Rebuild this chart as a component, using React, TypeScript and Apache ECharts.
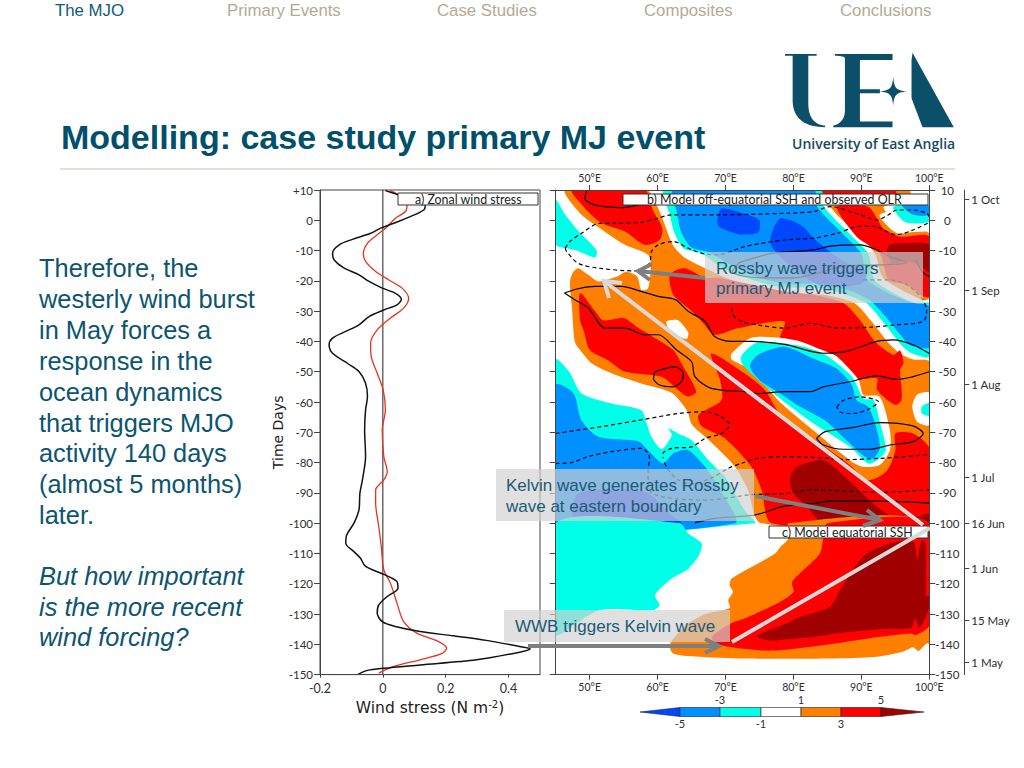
import React, { useEffect, useRef } from "react";
import * as echarts from "echarts";

type P = [number, number];

const navLabels = ["The MJO", "Primary Events", "Case Studies", "Composites", "Conclusions"];
const navX = [55, 227, 437, 644, 840];
const bodyLines = ["Therefore, the", "westerly wind burst", "in May forces a", "response in the", "ocean dynamics", "that triggers MJO", "activity 140 days", "(almost 5 months)", "later."];
const italicLines = ["But how important", "is the more recent", "wind forcing?"];

// panel a: [wind stress, day]
const blackStress: P[] = [[0.008,9.8],[0.05,8.4],[0.11,6.5],[0.135,5],[0.13,3.4],[0.087,1.2],[0.035,-1],[-0.007,-2.6],[-0.039,-4.3],[-0.097,-6.3],[-0.139,-8.1],[-0.16,-10.9],[-0.155,-13.1],[-0.123,-15.8],[-0.076,-18],[-0.044,-20.2],[-0.002,-22.4],[0.04,-24.1],[0.059,-26.1],[0.045,-27.9],[0.003,-29.6],[-0.044,-31.8],[-0.076,-34.5],[-0.118,-36.7],[-0.16,-38.9],[-0.171,-41.1],[-0.16,-43.9],[-0.113,-47.2],[-0.076,-49.9],[-0.055,-53.8],[-0.049,-58.2],[-0.055,-62.6],[-0.058,-69.2],[-0.055,-78],[-0.065,-85.7],[-0.073,-90.1],[-0.076,-95.6],[-0.092,-100],[-0.115,-103.9],[-0.118,-106.6],[-0.092,-109.4],[-0.071,-111.6],[-0.055,-114.3],[0.003,-116.9],[0.045,-119.3],[0.048,-121.5],[0.014,-124.2],[-0.013,-127],[-0.018,-129.7],[-0.002,-132.5],[0.04,-134.1],[0.119,-135.8],[0.224,-137.2],[0.329,-138.7],[0.435,-140.7],[0.469,-141.5],[0.435,-142.6],[0.298,-145.1],[0.119,-146.8],[0.003,-147.9],[-0.049,-148.6],[-0.079,-149.9]];
const redStress: P[] = [[0.022,9.8],[0.045,8.7],[0.077,5],[0.072,2.9],[0.04,0.7],[0.014,-2.1],[-0.018,-4.8],[-0.049,-7.6],[-0.062,-10.9],[-0.055,-13.6],[-0.023,-16.9],[0.019,-19.7],[0.061,-22.4],[0.082,-25.7],[0.066,-29],[0.024,-32.3],[-0.018,-36.2],[-0.039,-40.6],[-0.037,-45],[-0.018,-50.5],[0.001,-56],[0.008,-62.6],[-0.002,-69.2],[0.003,-78],[0.014,-83],[0.003,-85.7],[-0.023,-89],[-0.023,-93.4],[-0.013,-101.1],[-0.005,-107.7],[0.003,-115.4],[0.024,-119.8],[0.045,-126.4],[0.066,-132.5],[0.108,-136.3],[0.177,-139.1],[0.203,-141.3],[0.187,-143.1],[0.119,-145.1],[0.035,-147.3],[-0.013,-149.5]];
const zeroLine: P[] = [[0,10],[0,-150]];

// panel b shading: [longitude, day]
const orangeBand: P[] = [[46.4,10],[58.4,10],[60.3,2.9],[62.2,-8],[63.8,-12],[67,-15.8],[70.9,-19.7],[78,-24],[84.4,-24.6],[89,-27.4],[91.5,-33.4],[94.2,-41],[96,-44.4],[97.7,-46],[100,-46.7],[100,-100],[75.2,-100],[73.3,-89],[71.4,-81.4],[67.5,-72.5],[65.1,-67.6],[64.3,-62.7],[62.1,-57],[57.6,-53.9],[53.2,-50.5],[50.3,-47.2],[48.6,-42.8],[47.8,-40],[47.4,-29],[47.1,-20.2],[47.6,-17],[48.3,-15.8],[49.8,-18],[51.3,-20.2],[54,-18.6],[55.4,-17],[57,-18.6],[57.6,-23],[58.6,-22.4],[59,-14.7],[58.6,-11.4],[55.2,-8.1],[51.5,-2.6],[48.8,1.8]];
const orangeEast: P[] = [[82,10],[97,10],[97,5],[92.7,1.8],[94.2,-2.6],[95.4,-4.3],[100,-4.3],[100,-25.7],[98.9,-26.3],[93.2,-19],[92,-10.9],[89.3,-4.3],[86.4,1.8],[85.4,4.5]];
const redTopLeft: P[] = [[47.4,10],[58.1,10],[59.4,2.9],[60.7,-2.6],[60.3,-6.5],[58.1,-8.1],[55.2,-3.7],[51.8,-1],[49.3,4]];
const redLeft: P[] = [[48.6,-24],[50.8,-30],[52,-33],[55,-32.3],[57.2,-35.6],[59,-38],[62.3,-42.8],[63.5,-47.2],[65.7,-56.6],[64.5,-58.2],[63,-56],[60.6,-51.7],[55.2,-50],[52.7,-46.2],[50,-42.8],[49.2,-37],[48.6,-33]];
const redDiagonal: P[] = [[61.8,-18],[64,-15.8],[67,-19],[68.9,-19],[78.8,-23.5],[82.9,-24.6],[87.4,-27.4],[89.8,-33],[92,-40],[94.7,-44.4],[95.7,-43],[96.2,-47],[95.7,-49.5],[95.9,-55],[95.9,-59.4],[95,-61],[92.3,-56],[92.3,-52.2],[88.6,-52.2],[86.4,-45],[83,-42.8],[78,-40],[78.7,-33.4],[71.9,-35.6],[68.4,-37.8],[66.5,-33.4],[64.5,-29],[62.3,-24.6]];
const redLower: P[] = [[67.9,-44],[72.8,-50.5],[75.8,-56],[78,-63.8],[82.9,-72],[88.3,-80.8],[91,-85.8],[93.7,-82.9],[95,-75.9],[95,-70.4],[97.6,-70.4],[100,-75.3],[100,-100],[76.8,-100],[75.3,-89],[73.8,-81.4],[69.9,-72],[66.5,-68],[66,-64.3],[69.4,-59.4],[69.2,-52.7]];
const redEast: P[] = [[86.4,4.5],[91,4.5],[92.3,0.7],[93.2,-2.6],[95.7,-5.4],[100,-5.4],[100,-25.2],[99.1,-25.2],[96.7,-21.3],[94,-19.7],[92.7,-10.9],[89.3,-5.4]];
const redTopStrip: P[] = [[84,10],[95,10],[95,8],[84,8]];
const darkRedEast: P[] = [[94.2,-8.1],[95.7,-7.6],[100,-8.1],[100,-17],[98.4,-14.7],[96.7,-13.6],[94.5,-14.2],[93.7,-10.3]];
const darkRedLower: P[] = [[79.5,-85.2],[80.5,-81.4],[84.4,-79.2],[87.8,-85.2],[92.3,-94.6],[95.7,-99],[100,-96.8],[100,-100],[84.4,-100],[82,-94.6],[80,-90.2]];
const whiteSpot: P[] = [[61.3,-33.4],[63,-33],[64.5,-37],[64.3,-39.2],[63,-38],[61.6,-35.5]];
const whiteBlob: P[] = [[70.9,-44],[73.8,-38.8],[78,-38.8],[81,-40],[84.4,-43],[86.4,-45],[89.6,-52.7],[90.3,-57.7],[92.7,-58.3],[94.2,-69.3],[94.2,-75.9],[92.7,-80.8],[90.3,-81.4],[88.6,-79.7],[82.9,-69.3],[78,-60],[73.8,-49.5],[70.9,-46]];
const cyanBlob: P[] = [[72.4,-44.5],[74.5,-40.5],[78,-40.5],[81,-41.5],[84.4,-44],[88.6,-51.6],[90.3,-58.8],[91.8,-59.4],[92.7,-66.5],[93.6,-75.9],[92.3,-79.2],[91,-80.3],[88.3,-74.8],[82.9,-67],[78,-58.8],[74.8,-52.7],[72.4,-47.3]];
const blueBlob: P[] = [[74.8,-44.4],[78.7,-41.8],[82.9,-45.6],[86.4,-49],[88.6,-54.4],[89.3,-59.4],[91,-61.6],[92.3,-69.3],[92.7,-75.3],[91.8,-78.6],[90.5,-78],[87.8,-72.6],[84.9,-66.5],[81,-61.6],[78,-57.1],[75,-52.7],[73.6,-48.3]];
const cyanUpper: P[] = [[61,10],[61.8,1.8],[62.4,-3.7],[63.8,-9.2],[66.5,-10.9],[69,-15],[73,-19],[78,-22],[84.4,-22.5],[90.5,-27],[93,-33],[96,-41.5],[97.5,-44],[100,-45],[100,-27.5],[98,-27.5],[92,-20],[91,-11],[88.5,-5],[84.5,4.5],[84,10]];
const blueUpper: P[] = [[62.3,10],[62.8,3],[63.5,-4],[65,-9],[67.5,-10.5],[71,-15],[75,-19],[79,-21],[85,-21],[91,-26],[94,-33],[97,-41],[98.5,-42],[100,-42],[100,-28.5],[97,-27],[91,-20],[90,-11],[87.5,-5],[83.5,4.5],[83,10]];
const deepBlueA: P[] = [[68.9,1.5],[69.5,4],[73,2],[75,0],[74.8,-4],[72,-4.6],[69,-2]];
const deepBlueB: P[] = [[76.6,-7.5],[78,0.5],[81,-1.5],[83.5,-7],[87.5,-13.7],[90.8,-17],[90,-21],[84,-21.5],[79.5,-15]];
const whiteTopEast: P[] = [[93.3,4.5],[95,-1],[96,-3.2],[100,-3.2],[100,4.5]];
const cyanTopEast: P[] = [[94.7,4.5],[96,0],[97.2,-1],[100,-0.4],[100,4.5]];
const blueTopEast: P[] = [[96,5],[97.7,1.8],[100,1.8],[100,5]];
const cyanTopLeft: P[] = [[45,6.7],[46.4,1.8],[48.4,-3.7],[51,-9.8],[50.8,-12.3],[47.9,-9.8],[45,-8]];
const cyanLowerLeft: P[] = [[45,-46],[47,-50],[48.8,-57.2],[53.2,-60.5],[57.6,-62.7],[58.4,-67],[59.1,-71.5],[60.6,-75.6],[62.1,-70.9],[61.6,-68.7],[63,-70.4],[65,-72.6],[67.5,-79.2],[69.9,-84.7],[72.8,-95.7],[74.3,-100],[45,-100]];
const blueLowerLeft: P[] = [[45,-54.4],[47.6,-57],[48.8,-66],[51.3,-71.5],[57.2,-73],[58.6,-75.9],[60.8,-80.3],[62.3,-77],[64.5,-75.9],[67,-81.4],[69.5,-90],[71.4,-100],[45,-100]];
const deepBlueLower: P[] = [[48.3,-90.2],[58.1,-89.6],[62.3,-97.9],[63.5,-100],[47.9,-100]];
const whiteEastEdge: P[] = [[100,-57],[98.2,-57.6],[97.5,-61.5],[98.2,-66.5],[100,-67.6]];
const cyanEastEdge: P[] = [[100,-60.4],[98.9,-61.5],[98.9,-63.7],[100,-64.6]];

// panel c shading
const cyanEquatorial: P[] = [[45,-100],[63.3,-100],[64.5,-103.4],[66.5,-106.7],[66,-111],[64.3,-115.5],[62.1,-118.3],[59.6,-123.8],[60.3,-127],[59.4,-128.7],[51.5,-128.7],[45.9,-136.4],[45,-137]];
const orangeEquatorial: P[] = [[79.3,-100],[79.3,-105],[78,-108],[77.3,-110],[74.8,-113.3],[70.9,-118.3],[70.6,-120.5],[71.1,-122.7],[70.4,-125.4],[70.6,-128],[67,-130],[64,-134],[61.8,-140],[62.3,-143],[65.5,-144],[72.8,-144.7],[85.4,-144.7],[92.7,-144],[96.2,-142.4],[97.6,-141],[98.4,-142.2],[99.6,-139.7],[100,-139.7],[100,-100]];
const redEquatorial: P[] = [[85,-100],[84.4,-105],[83.9,-110],[82,-114.4],[79.8,-119.4],[80,-122.7],[78,-126],[72.8,-131.5],[70.9,-133],[68,-137.5],[68.7,-140],[74.8,-142],[78,-142],[85.4,-140],[92.7,-137.5],[97.4,-136.4],[98,-137],[100,-133.7],[100,-100]];
const darkRedEquatorial: P[] = [[74.6,-137.5],[75.8,-135.9],[78.7,-133.4],[81,-131],[85.4,-127.6],[86.9,-122],[89.8,-112.2],[91.3,-109.4],[94.2,-106.7],[97.4,-105.6],[98,-108],[98.2,-112.5],[98.8,-106],[99.4,-106],[99.5,-118],[99.5,-124],[100,-124],[100,-127],[99.4,-131.5],[98.5,-134.7],[97.9,-131.5],[97.4,-134.5],[92.7,-135],[87.8,-136],[83,-137.5],[78,-138.6],[76.8,-138.8]];

// OLR contours in panel b
const solidContours: P[][] = [
  [[49.6,10],[49.3,7.3],[50.8,5],[54.7,4.2],[58.1,5.6]],
  [[46.3,-24],[48.3,-22.6],[50.8,-21.8],[54.7,-21.8],[57.2,-23.2],[60.1,-25.1],[62.6,-26.2],[64.5,-30],[67,-33.4],[68.4,-38.4],[70.9,-40],[73.8,-40],[78.7,-41],[84.4,-43.9],[87.8,-43.3],[92.3,-40],[94.7,-39.5],[97.6,-41.1],[100,-44]],
  [[46.3,-24],[47.8,-26.2],[49.8,-29],[52.3,-35.6],[55.2,-35.6],[58.1,-37.8],[60.1,-37.8],[62.8,-42.8],[65,-46.7],[65.5,-51.6],[67.9,-55.5],[72.8,-56.6],[74.8,-57.2],[78.7,-56.6],[82.5,-56.6],[84.4,-55],[88.3,-53.3],[92.3,-51.4],[95.2,-52.5],[100,-50]],
  [[59.6,-50],[62.5,-48.4],[63.8,-50.5],[63.5,-53.3],[62.3,-55],[60.3,-54.4],[59.4,-52.2],[59.6,-50]],
  [[83.4,-72],[84.7,-69.8],[88.8,-68.4],[92.7,-66.8],[97.6,-67.9],[99.1,-70.4],[97.6,-73.1],[94.2,-74.2],[91.3,-75.6],[87.4,-75.6],[84.4,-74.2],[83.4,-72]],
  [[65.5,-99.8],[68.5,-98.4],[74.3,-97.3],[78.7,-94.4],[83,-93.5],[85.4,-92.7],[92.7,-92.7],[100,-93.3]],
  [[72,-14],[76.8,-10.9],[83,-9.8],[85.4,-8.5],[89.8,-8.1],[92.3,-9.8],[94.2,-12],[96.7,-14],[92.7,-14.7],[88,-15],[80,-19],[75,-19],[71,-17],[72,-14]],
  [[98,-13],[99,-17],[100,-18.6]],
];
const dashedContours: P[][] = [
  [[46.4,-9.2],[47.1,-7],[48.8,-4.3],[51.5,-1],[53.7,-1],[57.6,-0.7],[60.1,0.7],[62,1.8],[68.9,1.8],[78.7,2.3],[83,2.9],[85.4,4.5],[89.8,1.8],[92.3,0.1],[94,1.8],[95.2,3.4],[97.6,3.4],[99.6,2.3],[100,1.2]],
  [[46.4,-9.2],[46.6,-10.3],[48.3,-14.2],[51.3,-15.8],[56.6,-16.7],[58.8,-14.2],[59.1,-10.3],[60.1,-8.1],[62.3,-7],[64.5,-9.2],[66.5,-10.9],[68.9,-11.4],[72.8,-8.7],[78.7,-6.5],[83,-5.9],[86.4,-4.3],[89.8,-2],[91.8,-2],[95.2,-4.8],[97.6,-3.2],[100,-0.7]],
  [[90.3,-19.7],[94.2,-19.7],[96.7,-21.3],[98.9,-25.7],[99.6,-30],[99.1,-33.4],[95.2,-34.5],[91.3,-35.3],[86.4,-35.6],[82.5,-34],[80,-35.1],[78.7,-35.6],[74.8,-34.6],[72.4,-33.4],[71.1,-31.2],[70.9,-28]],
  [[86.4,-61.6],[87.4,-59.4],[89.8,-58.3],[92.5,-59.9],[91.3,-62.1],[88.8,-63.8],[86.9,-63.3],[86.4,-61.6]],
  [[45,-70.4],[48.3,-69.3],[53.2,-67.6],[58.1,-65.7],[63,-63.8],[66.9,-63.2],[69.4,-64.9],[70.6,-67.6],[69.4,-70.4],[67,-72],[65,-74.8],[62.1,-75.3],[60.8,-77],[60.8,-78.6]],
  [[61,-80],[61.6,-82.5],[63,-85.7],[65,-87],[68,-85],[70.4,-81.9],[72.4,-80.2],[74.8,-78.6],[78.7,-78],[85,-78.6],[87.8,-79],[92.7,-78.6],[100,-77.4]],
  [[45,-80.3],[47.3,-80],[49.8,-78],[53.2,-76.4],[57.6,-75.3],[58.8,-78],[58.6,-83.6],[59.1,-90],[67,-92.4],[73.8,-90.6],[78.7,-90.2],[82.5,-89],[92.7,-89.8],[100,-89]],
];

const lonTicks = [50, 60, 70, 80, 90, 100];
const dateDays = [6.9, -23.1, -54.1, -85, -100, -115, -132, -146];
const dateLabels = ["1 Oct", "1 Sep", "1 Aug", "1 Jul", "16 Jun", "1 Jun", "15 May", "1 May"];
const colorbarLevels = ["-5", "-3", "-1", "1", "3", "5"];

const ORANGE = "#ff8000", RED = "#ff0000", DARK = "#a00000", CYAN = "#00ffe8", BLUE = "#0090ff", DEEP = "#0048ff", WHITE = "#ffffff";
const TEAL = "#0b5570";
const INK = "#2f2f2f";
const FIG_FONT = "Lato";
const SANS = "Liberation Sans";

const shadeLayers: [P[], string][] = [
  [orangeBand, ORANGE], [orangeEast, ORANGE], [redTopLeft, RED], [redLeft, RED], [redDiagonal, RED], [redLower, RED], [redEast, RED], [redTopStrip, RED],
  [darkRedEast, DARK], [darkRedLower, DARK], [whiteSpot, WHITE], [whiteBlob, WHITE], [cyanBlob, CYAN], [blueBlob, BLUE],
  [cyanUpper, CYAN], [blueUpper, BLUE], [deepBlueA, DEEP], [deepBlueB, DEEP], [whiteTopEast, WHITE], [cyanTopEast, CYAN], [blueTopEast, BLUE],
  [cyanTopLeft, CYAN], [cyanLowerLeft, CYAN], [blueLowerLeft, BLUE], [deepBlueLower, DEEP], [whiteEastEdge, WHITE], [cyanEastEdge, CYAN],
  [cyanEquatorial, CYAN], [orangeEquatorial, ORANGE], [redEquatorial, RED], [darkRedEquatorial, DARK],
];

const logoPath = "M45 42 L140 42 L140 47 L115 47 L115 190 C115 240 140 255 165 257 L165 262 C110 262 70 240 68 185 L68 47 L45 47 Z M195 42 L368 42 L368 60 L270 60 L270 148 L330 148 L330 160 L270 160 L270 245 L368 245 L368 262 L190 262 L190 257 C215 250 225 235 225 210 L225 55 C225 50 215 47 195 47 Z M370 110 C373 145 378 150 412 155 C378 158 373 165 370 198 C367 165 362 158 328 155 C362 150 367 145 370 110 Z M428 38 L552 262 L458 262 L425 175 L425 60 Z";
echarts.graphic.registerShape("uealogo", echarts.graphic.extendPath(logoPath, {}));

function label(text: string, x: number, y: number, fontSize: number, fill: string, extra: any = {}) {
  return { type: "text", x, y, z: 100, silent: true, style: { text, fontSize, fill, fontFamily: SANS, textVerticalAlign: "middle", ...extra } };
}
function arrow(pts: [number, number][], color: string) {
  const a = pts[0], b = pts[1];
  return [
    { type: "line", z: 90, silent: true, shape: { x1: a[0], y1: a[1], x2: b[0], y2: b[1] }, style: { stroke: color, lineWidth: 4 } },
    { type: "polyline", z: 90, silent: true, shape: { points: [pts[2], b, pts[3]] }, style: { stroke: color, lineWidth: 4, fill: "none" } },
  ];
}
function tagBox(x: number, y: number, w: number, h: number, text: string, tx: number) {
  return [
    { type: "rect", z: 60, silent: true, shape: { x, y, width: w, height: h }, style: { fill: "#fff", stroke: "#333", lineWidth: 1 } },
    { type: "text", x: tx, y: y + h / 2, z: 61, silent: true, style: { text, fontSize: 12.4, fill: "#222", fontFamily: FIG_FONT, textVerticalAlign: "middle" } },
  ];
}
function greyBox(x: number, y: number, w: number, h: number) {
  return { type: "rect", z: 80, silent: true, shape: { x, y, width: w, height: h }, style: { fill: "rgba(210,210,210,0.68)" } };
}

const axisLine = { show: true, onZero: false, lineStyle: { color: "#444", width: 1 } };
const tick = { show: true, lineStyle: { color: "#444" }, length: 6 };
const baseAxis = { axisLine, axisTick: tick, splitLine: { show: false }, z: 5 };
const labelStyle = { color: INK, fontFamily: FIG_FONT, fontSize: 10.5 };

export default function App() {
  const ref = useRef<HTMLDivElement>(null);
  useEffect(() => {
    document.body.style.margin = "0";
    const chart = echarts.init(ref.current!, undefined, { renderer: "svg" });
    const barX = [680, 720, 761, 801, 841, 881];
    const barFills = [BLUE, CYAN, WHITE, ORANGE, RED];
    const graphic: any[] = [
      ...navLabels.map((t, i) => label(t, navX[i], 10, 16.8, i === 0 ? "#0b5a7a" : "#b3ab95")),
      label("Modelling: case study primary MJ event", 61, 137, 34, "#00506b", { fontWeight: "bold" }),
      { type: "line", z: 100, silent: true, shape: { x1: 60, y1: 169, x2: 955, y2: 169 }, style: { stroke: "#c9bdae", lineWidth: 1 } },
      { type: "uealogo", x: 770, y: 40, scaleX: 1 / 3, scaleY: 1 / 3, z: 100, silent: true, style: { fill: "#0b5068" } },
      { type: "text", x: 792, y: 143, z: 100, silent: true, style: { text: "University of East Anglia", fontSize: 14, fontWeight: 600, fill: "#174a60", fontFamily: "Open Sans", textVerticalAlign: "middle" } },
      ...bodyLines.map((t, i) => label(t, 39, 268 + i * 30.9, 25.4, TEAL)),
      ...italicLines.map((t, i) => label(t, 39, 576 + i * 30.5, 25.4, TEAL, { fontStyle: "italic" })),
      ...tagBox(398, 193, 140, 12, "a) Zonal wind stress", 415),
      ...tagBox(623, 194, 305, 11, "b) Model off-equatorial SSH and observed OLR", 647),
      ...tagBox(769, 526, 159, 12, "c) Model equatorial SSH", 782),
      greyBox(705, 252, 218, 51),
      greyBox(496, 469, 258, 52),
      greyBox(504, 610, 226, 32),
      label("Rossby wave triggers", 716, 268, 17, "#1b5a78"),
      label("primary MJ event", 716, 288, 17, "#1b5a78"),
      label("Kelvin wave generates Rossby", 506, 485, 17, "#1b5a78"),
      label("wave at eastern boundary", 506, 506, 17, "#1b5a78"),
      label("WWB triggers Kelvin wave", 515, 626, 17, "#1b5a78"),
      ...arrow([[923, 525], [604, 281], [622, 283], [609, 298]], "#d9d9d9"),
      { type: "line", z: 90, silent: true, shape: { x1: 732, y1: 642, x2: 930, y2: 528 }, style: { stroke: "#d9d9d9", lineWidth: 4 } },
      ...arrow([[705, 278], [638, 271], [652, 264], [650, 280]], "#7f7f7f"),
      ...arrow([[755, 496], [880, 520], [867, 510], [863, 526]], "#7f7f7f"),
      ...arrow([[528, 646], [719, 646], [705, 639], [705, 653]], "#7f7f7f"),
      { type: "polygon", z: 100, silent: true, shape: { points: [[640, 712], [680, 707.5], [680, 716.5]] }, style: { fill: DEEP, stroke: "#222", lineWidth: 0.6 } },
      ...barFills.map((fill, i) => ({ type: "rect", z: 100, silent: true, shape: { x: barX[i], y: 707.5, width: barX[i + 1] - barX[i], height: 9 }, style: { fill, stroke: "#222", lineWidth: 0.6 } })),
      { type: "polygon", z: 100, silent: true, shape: { points: [[881, 707.5], [924, 712], [881, 716.5]] }, style: { fill: DARK, stroke: "#222", lineWidth: 0.6 } },
      ...colorbarLevels.map((t, i) => ({ type: "text", x: barX[i], y: i % 2 === 0 ? 723 : 699, z: 100, silent: true, style: { text: t, fontSize: 11, fill: INK, fontFamily: FIG_FONT, textAlign: "center", textVerticalAlign: "middle" } })),
    ];

    chart.setOption({
      animation: false,
      backgroundColor: "#fff",
      grid: [
        { left: 320, top: 190, width: 220, height: 484.6, show: true, borderColor: "#444", borderWidth: 1, backgroundColor: "transparent" },
        { left: 555.7, top: 190, width: 373.6, height: 484.6, show: false },
      ],
      xAxis: [
        { ...baseAxis, type: "value", gridIndex: 0, min: -0.2, max: 0.5, interval: 0.2, position: "bottom", axisTick: { ...tick, length: 3 },
          axisLabel: { ...labelStyle, fontSize: 12.5, margin: 7, showMaxLabel: false, formatter: (v: number) => (v === 0 ? "0" : v.toFixed(1)) },
          name: "{a|Wind stress (N m}{s|-2}{a|)}", nameLocation: "middle", nameGap: 24,
          nameTextStyle: { rich: { a: { fontSize: 15.5, fontFamily: "DejaVu Sans", color: "#222" }, s: { fontSize: 10, fontFamily: "DejaVu Sans", color: "#222", verticalAlign: "top", padding: [0, 0, 6, 0] } } } },
        { ...baseAxis, type: "value", gridIndex: 1, min: 45, max: 100, position: "bottom", axisTick: { ...tick, length: 5, customValues: lonTicks },
          axisLabel: { ...labelStyle, margin: 7, customValues: lonTicks, formatter: (v: number) => v + "°E" } },
        { ...baseAxis, type: "value", gridIndex: 1, min: 45, max: 100, position: "top", axisTick: { ...tick, length: 5, customValues: lonTicks },
          axisLabel: { ...labelStyle, margin: 7, customValues: lonTicks, formatter: (v: number) => v + "°E" } },
      ],
      yAxis: [
        { ...baseAxis, type: "value", gridIndex: 0, min: -150, max: 10, interval: 10, position: "left",
          axisLabel: { ...labelStyle, fontSize: 11.5, margin: 7, formatter: (v: number) => (v === 10 ? "+10" : String(v)) },
          name: "Time Days", nameLocation: "middle", nameGap: 22, nameRotate: 90, nameTextStyle: { fontSize: 14, fontFamily: "DejaVu Sans", color: "#222" } },
        { ...baseAxis, type: "value", gridIndex: 1, min: -150, max: 10, interval: 10, position: "left", axisLabel: { show: false } },
        { ...baseAxis, type: "value", gridIndex: 1, min: -150, max: 10, interval: 10, position: "right",
          axisLabel: { ...labelStyle, fontSize: 11.5, margin: 18, align: "center", formatter: (v: number) => String(v) } },
        { ...baseAxis, type: "value", gridIndex: 1, min: -150, max: 10, position: "right", offset: 35, axisTick: { ...tick, length: 5, customValues: dateDays },
          axisLabel: { ...labelStyle, fontSize: 11.5, margin: 7, customValues: dateDays, formatter: (v: number) => dateLabels[dateDays.indexOf(v)] ?? "" } },
      ],
      series: [
        {
          type: "custom", coordinateSystem: "cartesian2d", xAxisIndex: 1, yAxisIndex: 2, clip: true, silent: true, z: 2,
          data: shadeLayers.map((l) => l[0][0]),
          renderItem: (params: any, api: any) => {
            const layer = shadeLayers[params.dataIndex];
            return { type: "polygon", shape: { points: layer[0].map((p) => api.coord(p)), smooth: 0.25 }, style: { fill: layer[1] } };
          },
        },
        ...solidContours.map((data) => ({ type: "line", xAxisIndex: 1, yAxisIndex: 2, data, smooth: 0.3, showSymbol: false, silent: true, z: 3, lineStyle: { color: "#000", width: 1.2 } })),
        ...dashedContours.map((data) => ({ type: "line", xAxisIndex: 1, yAxisIndex: 2, data, smooth: 0.3, showSymbol: false, silent: true, z: 3, lineStyle: { color: "#000", width: 1.2, type: [4, 3] } })),
        { type: "line", xAxisIndex: 0, yAxisIndex: 0, data: zeroLine, showSymbol: false, silent: true, lineStyle: { color: "#222", width: 1 } },
        { type: "line", xAxisIndex: 0, yAxisIndex: 0, data: redStress, smooth: 0.3, showSymbol: false, silent: true, lineStyle: { color: "#e5341f", width: 1.3 } },
        { type: "line", xAxisIndex: 0, yAxisIndex: 0, data: blackStress, smooth: 0.3, showSymbol: false, silent: true, lineStyle: { color: "#111", width: 1.5 } },
      ],
      graphic,
    });
    return () => chart.dispose();
  }, []);
  return <div ref={ref} style={{ width: 1024, height: 768 }} />;
}
